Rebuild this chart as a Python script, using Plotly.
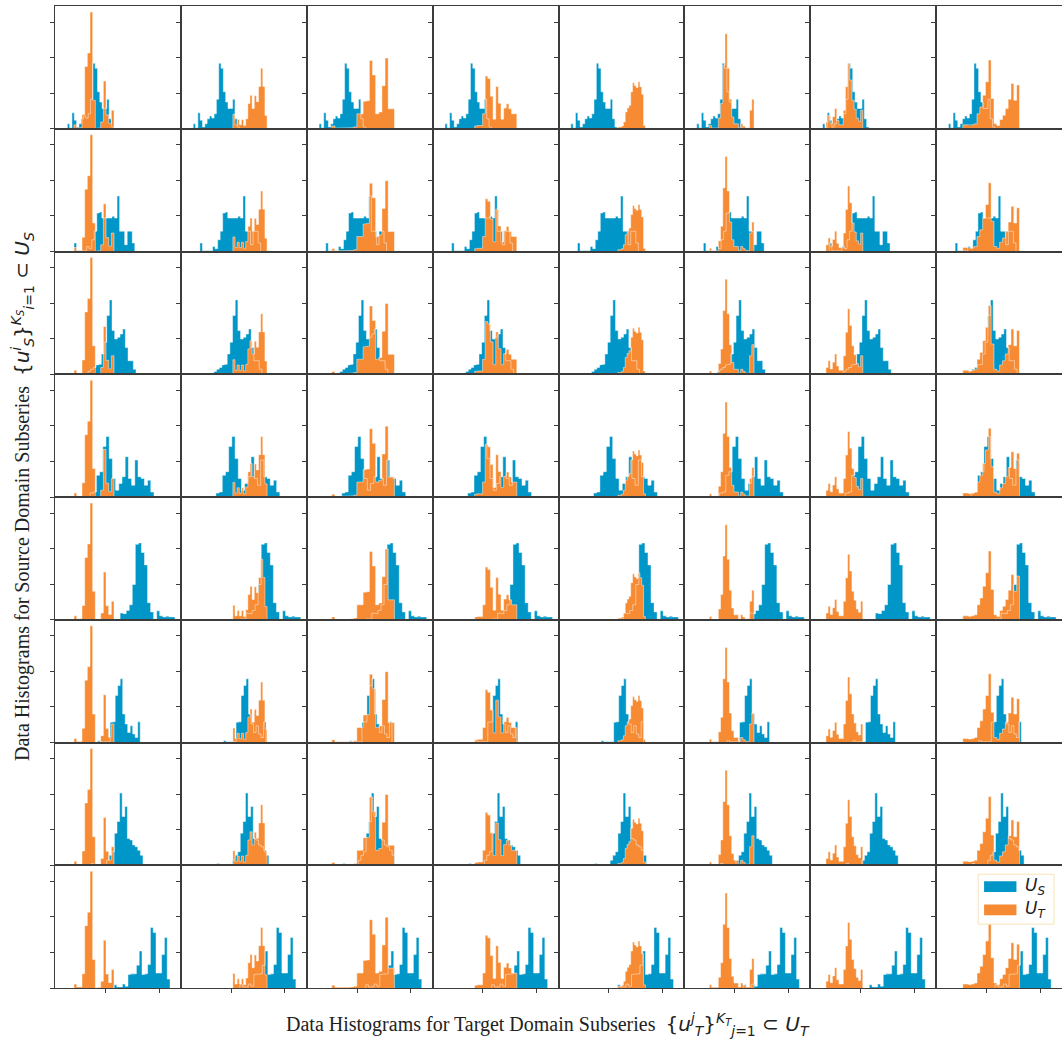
import numpy as np
import plotly.graph_objects as go
from plotly.subplots import make_subplots

# ---- Source-domain subseries (one per grid row): density per bin ----
source_start = [-0.708, -0.584, -0.671, -0.286, 0.161, -0.143, -0.267, 0.161]
source_width = [0.0432, 0.0472, 0.0497, 0.0596, 0.0568, 0.0466, 0.0484, 0.0522]
source_1 = [0.14, 0.03, 0.45, 0.24, 0.05, 0.14, 0.28, 0.36, 0.30, 0.42, 0.83, 1.84, 1.70, 1.04, 0.75, 0.57, 0.57, 0.83, 0.28, 0.05]
source_2 = [0.24, 0.02, 0.02, 0.02, 0.02, 0.14, 0.08, 0.33, 0.57, 1.08, 1.11, 0.94, 0.94, 0.94, 0.94, 0.99, 0.94, 1.56, 0.57, 0.57, 0.19, 0.57, 0.57, 0.24]
source_3 = [0.03, 0.0, 0.0, 0.0, 0.0, 0.0, 0.02, 0.08, 0.14, 0.19, 0.26, 0.28, 0.57, 0.90, 1.65, 2.09, 1.23, 0.99, 1.04, 1.13, 1.27, 0.75, 0.38, 0.38, 0.14]
source_4 = [0.11, 0.14, 0.61, 0.71, 1.42, 1.70, 1.08, 0.52, 0.19, 0.38, 0.57, 1.13, 0.52, 0.33, 1.04, 0.57, 0.52, 0.33, 0.47, 0.14]
source_5 = [0.02, 0.02, 0.19, 0.17, 0.26, 0.42, 0.99, 2.12, 2.16, 1.89, 1.54, 0.48, 0.22, 0.02, 0.25, 0.11, 0.08, 0.10, 0.08, 0.08]
source_6 = [0.05, 0.02, 0.02, 0.02, 0.02, 0.57, 0.58, 1.32, 1.60, 1.79, 0.80, 0.52, 0.28, 0.47, 0.24, 0.14, 0.58]
source_7 = [0.05, 0.02, 0.02, 0.02, 0.02, 0.02, 0.14, 0.28, 0.38, 0.90, 1.23, 2.03, 1.37, 1.65, 0.75, 0.71, 0.57, 0.52, 0.42, 0.28]
source_8 = [0.09, 0.03, 0.03, 0.11, 0.05, 0.38, 0.40, 0.40, 0.64, 1.04, 0.38, 0.40, 0.66, 1.70, 1.56, 0.42, 0.42, 0.94, 1.42, 0.25]

# ---- Target-domain subseries (one per grid column): density per bin ----
target_start = [-0.584, 0.031, -0.472, -0.155, 0.168, -0.472, -0.646, -0.441]
target_width = [0.0497, 0.0398, 0.0584, 0.0491, 0.0342, 0.0416, 0.0404, 0.0528]
target_1 = [0.11, 0.03, 0.03, 0.40, 1.75, 2.13, 3.28, 0.80, 0.01, 0.02, 0.19, 1.34, 0.39, 0.15, 0.52]
target_2 = [0.41, 0.11, 0.26, 0.11, 0.26, 0.09, 0.28, 0.71, 0.94, 0.57, 0.93, 0.76, 1.19, 1.70, 1.19, 0.37]
target_3 = [0.08, 0.02, 0.02, 0.02, 0.02, 0.02, 0.03, 0.05, 0.42, 0.42, 0.77, 0.79, 1.92, 1.51, 0.42, 0.47, 1.21, 1.99, 0.56, 0.56]
target_4 = [0.08, 0.09, 0.09, 0.42, 1.48, 1.41, 0.91, 0.27, 1.19, 0.72, 0.27, 0.58, 0.70, 0.56, 0.42, 0.42]
target_5 = [0.05, 0.05, 0.08, 0.19, 0.47, 0.58, 0.66, 1.04, 1.29, 1.21, 1.16, 1.32, 1.18, 0.97, 0.09]
target_6 = [0.09, 0.02, 0.02, 0.02, 0.30, 0.71, 1.79, 2.67, 1.70, 0.83, 0.33, 0.14, 0.14, 0.03, 0.14, 0.08, 0.03, 0.03, 0.52, 0.83]
target_7 = [0.19, 0.38, 0.15, 0.34, 0.57, 0.23, 0.11, 0.11, 0.52, 1.18, 1.84, 1.37, 0.80, 0.55, 0.30, 0.21, 0.52]
target_8 = [0.11, 0.11, 0.09, 0.11, 0.14, 0.42, 0.61, 0.94, 1.32, 1.93, 0.85, 0.14, 0.09, 0.26, 0.38, 0.57, 0.83, 1.27, 0.80, 1.23]

source_series = [source_1, source_2, source_3, source_4, source_5, source_6, source_7, source_8]
target_series = [target_1, target_2, target_3, target_4, target_5, target_6, target_7, target_8]

x_ticks = [0, 1]
y_ticks = [0, 1, 2, 3]

BLUE = "#0096c7"
ORANGE = "#f68b33"
EDGE = "rgba(255,255,255,0.45)"
FRAME = "#3c3c3c"

N = 8


def step_outline(start, width, dens):
    """Stepped histogram outline (stepfilled style) from bin start/width/densities."""
    edges = start + width * np.arange(len(dens) + 1)
    xs, ys = [edges[0]], [0.0]
    for i, d in enumerate(dens):
        xs += [edges[i], edges[i + 1]]
        ys += [d, d]
    xs.append(edges[-1])
    ys.append(0.0)
    return xs, ys


fig = make_subplots(rows=N, cols=N, shared_xaxes=True, shared_yaxes=True,
                    horizontal_spacing=0, vertical_spacing=0)

for r in range(N):
    bx, by = step_outline(source_start[r], source_width[r], source_series[r])
    for c in range(N):
        ox, oy = step_outline(target_start[c], target_width[c], target_series[c])
        fig.add_trace(go.Scatter(x=bx, y=by, mode="none", fill="toself", fillcolor=BLUE,
                                 hoverinfo="skip", showlegend=False), row=r + 1, col=c + 1)
        fig.add_trace(go.Scatter(x=ox, y=oy, mode="none", fill="toself", fillcolor=ORANGE,
                                 hoverinfo="skip", showlegend=False), row=r + 1, col=c + 1)
        fig.add_trace(go.Scatter(x=bx + [None] + ox, y=by + [None] + oy, mode="lines",
                                 line=dict(color=EDGE, width=1), hoverinfo="skip",
                                 showlegend=False), row=r + 1, col=c + 1)

fig.update_xaxes(range=[-0.938, 1.407], showgrid=False, zeroline=False,
                 showline=True, mirror=True, linecolor=FRAME, linewidth=1,
                 tickvals=x_ticks, showticklabels=False, ticks="")
fig.update_xaxes(ticks="outside", ticklen=4, tickcolor=FRAME, row=N)
fig.update_yaxes(range=[0, 3.45], showgrid=False, zeroline=False,
                 showline=True, mirror=True, linecolor=FRAME, linewidth=1,
                 tickvals=y_ticks, showticklabels=False, ticks="outside",
                 ticklen=4, tickcolor=FRAME)

math = "font-family:'DejaVu Sans'"
x_title = ("Data Histograms for Target Domain Subseries&nbsp;&nbsp;"
           f"<span style=\"{math}\">{{<i>u</i><sup><i>j</i></sup><sub><i>T</i></sub>}}"
           "<sup><i>K<sub>T</sub></i></sup><sub><i>j</i>=1</sub> ⊂ <i>U</i><sub><i>T</i></sub></span>")
y_title = ("Data Histograms for Source Domain Subseries&nbsp;&nbsp;"
           f"<span style=\"{math}\">{{<i>u</i><sup><i>i</i></sup><sub><i>S</i></sub>}}"
           "<sup><i>K<sub>S</sub></i></sup><sub><i>i</i>=1</sub> ⊂ <i>U</i><sub><i>S</i></sub></span>")

title_font = dict(family="Liberation Serif", size=20, color="#222222")
annotations = [
    dict(text=x_title, xref="paper", yref="paper", x=0.49, y=0, xanchor="center",
         yanchor="middle", yshift=-36, showarrow=False, font=title_font),
    dict(text=y_title, xref="paper", yref="paper", x=0, y=0.5, xanchor="center",
         yanchor="middle", xshift=-33, textangle=-90, showarrow=False, font=title_font),
]

# Legend drawn inside the bottom-right panel
lx, ly = "x64 domain", "y64 domain"
shapes = [
    dict(type="rect", xref=lx, yref=ly, x0=0.334, x1=0.937, y0=0.52, y1=0.927,
         line=dict(color="#f7e3b8", width=1), fillcolor="white", layer="above"),
    dict(type="rect", xref=lx, yref=ly, x0=0.381, x1=0.638, y0=0.783, y1=0.870,
         line=dict(width=0), fillcolor=BLUE, layer="above"),
    dict(type="rect", xref=lx, yref=ly, x0=0.381, x1=0.638, y0=0.593, y1=0.680,
         line=dict(width=0), fillcolor=ORANGE, layer="above"),
]
legend_font = dict(family="DejaVu Sans", size=17, color="#222222")
annotations += [
    dict(text="<i>U</i><sub><i>S</i></sub>", xref=lx, yref=ly, x=0.69, y=0.826,
         xanchor="left", yanchor="middle", showarrow=False, font=legend_font),
    dict(text="<i>U</i><sub><i>T</i></sub>", xref=lx, yref=ly, x=0.69, y=0.636,
         xanchor="left", yanchor="middle", showarrow=False, font=legend_font),
]

fig.update_layout(width=1062, height=1041, margin=dict(l=55, r=0, t=6, b=53),
                  paper_bgcolor="white", plot_bgcolor="white",
                  annotations=annotations, shapes=shapes, showlegend=False)

fig.write_html("out.html")
